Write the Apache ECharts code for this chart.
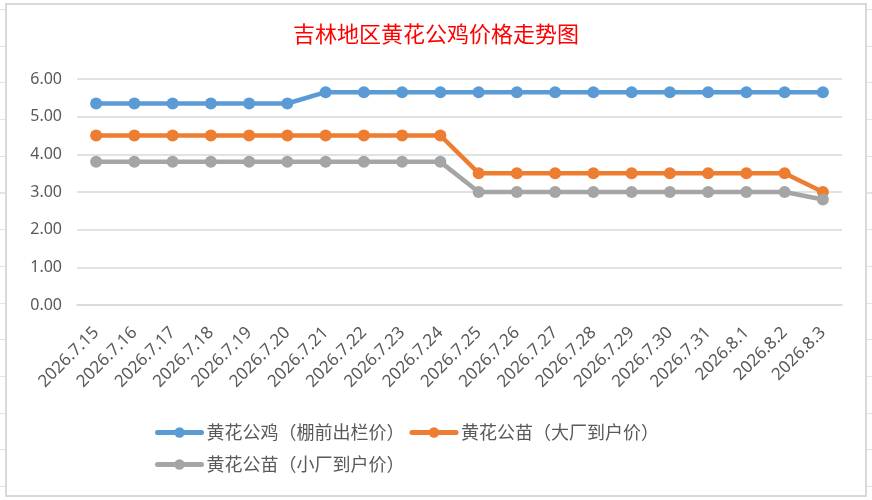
<!DOCTYPE html>
<html>
<head>
<meta charset="utf-8">
<script src="https://cdn.jsdelivr.net/npm/echarts@6/dist/echarts.min.js"></script>
<style>
  html, body { margin: 0; padding: 0; }
  body {
    width: 872px; height: 500px; position: relative; overflow: hidden;
    background: #fff repeating-linear-gradient(to bottom, transparent 0, transparent 9px, #e4e4e4 9px, #e4e4e4 10px, transparent 10px, transparent 36.7px);
  }
  #frame {
    position: absolute; left: 5px; top: 3px; width: 858px; height: 490px;
    border: 2px solid #d9d9d9; background: #fff;
  }
  #chart { position: absolute; left: 0; top: 0; width: 872px; height: 500px; }
</style>
</head>
<body>
<div id="frame"></div>
<div id="chart"></div>
<script>
// categories and prices
const dates = ['2026.7.15', '2026.7.16', '2026.7.17', '2026.7.18', '2026.7.19', '2026.7.20',
    '2026.7.21', '2026.7.22', '2026.7.23', '2026.7.24', '2026.7.25', '2026.7.26', '2026.7.27',
    '2026.7.28', '2026.7.29', '2026.7.30', '2026.7.31', '2026.8.1', '2026.8.2', '2026.8.3'];

const roosterPrice = [5.35, 5.35, 5.35, 5.35, 5.35, 5.35, 5.65, 5.65, 5.65, 5.65,
    5.65, 5.65, 5.65, 5.65, 5.65, 5.65, 5.65, 5.65, 5.65, 5.65];
const bigChickPrice = [4.5, 4.5, 4.5, 4.5, 4.5, 4.5, 4.5, 4.5, 4.5, 4.5,
    3.5, 3.5, 3.5, 3.5, 3.5, 3.5, 3.5, 3.5, 3.5, 3.0];
const smallChickPrice = [3.8, 3.8, 3.8, 3.8, 3.8, 3.8, 3.8, 3.8, 3.8, 3.8,
    3.0, 3.0, 3.0, 3.0, 3.0, 3.0, 3.0, 3.0, 3.0, 2.8];

const seriesNames = ['黄花公鸡（棚前出栏价）', '黄花公苗（大厂到户价）', '黄花公苗（小厂到户价）'];
const colors = ['#5b9bd5', '#ed7d31', '#a5a5a5'];

const chart = echarts.init(document.getElementById('chart'));

function lineSeries(name, data, color) {
    return {
        name: name,
        type: 'line',
        data: data,
        symbol: 'circle',
        symbolSize: 12,
        itemStyle: { color: color },
        lineStyle: { width: 4.5, color: color },
        emphasis: { disabled: true }
    };
}

const option = {
    animation: false,
    color: colors,
    title: {
        text: '吉林地区黄花公鸡价格走势图',
        left: 'center',
        top: 18,
        textStyle: {
            color: '#ff0000',
            fontSize: 22,
            fontWeight: 'normal',
            fontFamily: 'Noto Sans CJK SC'
        }
    },
    legend: {
        left: 150,
        top: 414,
        width: 560,
        itemWidth: 44,
        itemHeight: 13,
        itemGap: 5,
        lineStyle: { width: 5, cap: 'round' },
        textStyle: { color: '#595959', fontSize: 18, lineHeight: 27, fontFamily: 'Noto Sans CJK SC' },
        data: seriesNames
    },
    grid: { left: 77, right: 30, top: 79, bottom: 195 },
    xAxis: {
        type: 'category',
        data: dates,
        boundaryGap: true,
        axisLine: { lineStyle: { color: '#d9d9d9', width: 1.5 } },
        axisTick: { show: false },
        axisLabel: {
            rotate: 45,
            margin: 25,
            interval: 0,
            color: '#595959',
            fontSize: 17,
            fontFamily: 'Noto Sans'
        }
    },
    yAxis: {
        type: 'value',
        min: 0,
        max: 6,
        interval: 1,
        axisLine: { show: false },
        axisTick: { show: false },
        splitLine: { lineStyle: { color: '#d9d9d9', width: 1.5 } },
        axisLabel: {
            margin: 15,
            color: '#595959',
            fontSize: 16,
            fontFamily: 'Noto Sans',
            formatter: v => v.toFixed(2)
        }
    },
    series: [
        lineSeries(seriesNames[0], roosterPrice, colors[0]),
        lineSeries(seriesNames[1], bigChickPrice, colors[1]),
        lineSeries(seriesNames[2], smallChickPrice, colors[2])
    ]
};

chart.setOption(option);
</script>
</body>
</html>
